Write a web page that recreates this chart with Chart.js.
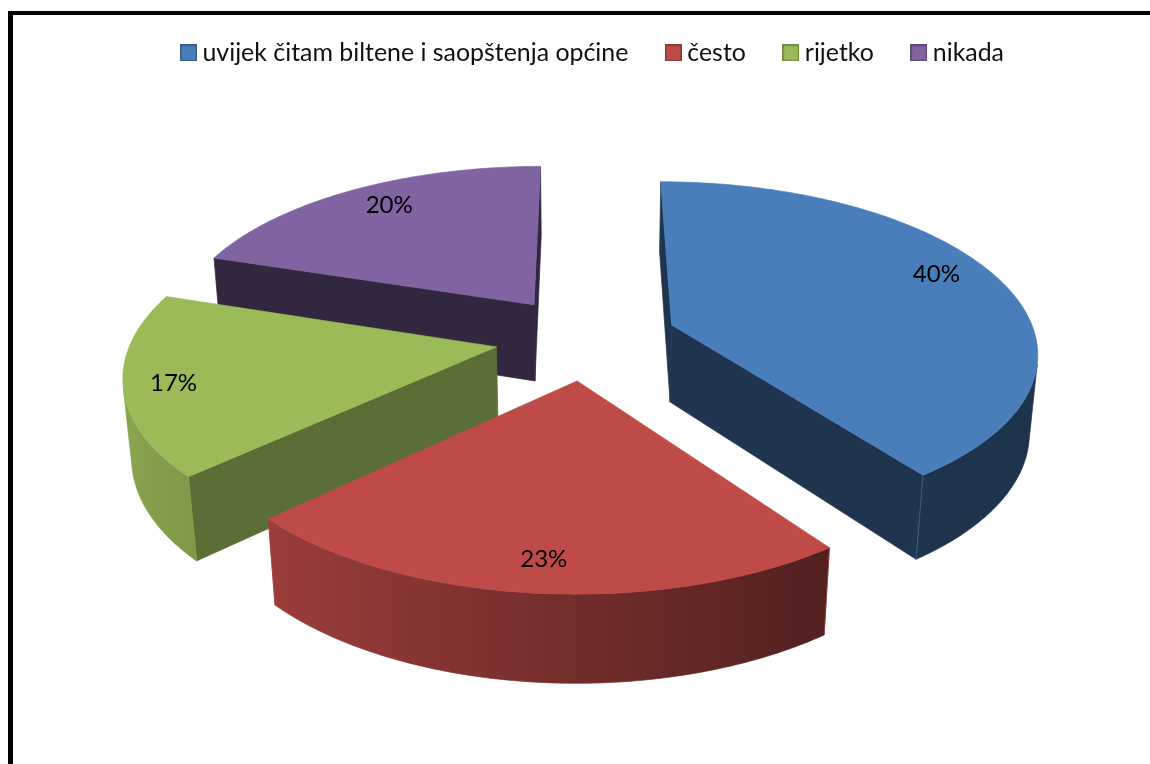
<!DOCTYPE html>
<html>
<head>
<meta charset="utf-8">
<script src="https://cdn.jsdelivr.net/npm/chart.js@4"></script>
<style>
html,body{margin:0;padding:0;background:#fff;width:1150px;height:764px;overflow:hidden}
#frame{position:absolute;left:8px;top:11px;right:0;bottom:0;border-left:5px solid #000;border-top:4px solid #000;pointer-events:none}
#c{position:absolute;left:0;top:-3px}
</style>
</head>
<body>
<canvas id="c" width="1150" height="767"></canvas>
<div id="frame"></div>
<script>
const categories = ['uvijek čitam biltene i saopštenja općine', 'često', 'rijetko', 'nikada'];
const values = [40, 23, 17, 20];
const explode = [0.25, 0.25, 0.25, 0.25];
const topColors = ['#4A7EBB', '#BE4B48', '#9BBB59', '#8064A2'];
const legendBorders = ['#385D8A', '#8C3836', '#71893F', '#5C4776'];
const wallShade = [0.42, 0.42, 0.59, 0.39];
const labelRadius = [0.845, 0.86, 0.87, 0.83];
const labelShiftDeg = [-4.5, -0.5, -1.3, 2];

const view = {panX: -9.5, panY: -82, zoom: 1.058, dist: 6.04, tilt: 27.4 * Math.PI / 180, height: 0.245};
const FONT = 'Lato';

function rgb(hex, k) {
  const n = parseInt(hex.slice(1), 16);
  return 'rgb(' + [(n >> 16) & 255, (n >> 8) & 255, n & 255].map(v => Math.round(v * k)).join(',') + ')';
}
function swatch(i) {
  const c = document.createElement('canvas');
  c.width = 17; c.height = 17;
  const x = c.getContext('2d');
  x.fillStyle = topColors[i]; x.fillRect(0, 0, 17, 17);
  x.strokeStyle = legendBorders[i]; x.lineWidth = 1.5; x.strokeRect(.75, .75, 15.5, 15.5);
  return c;
}

const pie3d = {
  id: 'pie3d',
  beforeDatasetDraw(chart, args) {
    const ctx = chart.ctx, arcs = args.meta.data;
    const st = Math.sin(view.tilt), ct = Math.cos(view.tilt), d = view.dist, h = view.height;
    const el0 = arcs[0];
    const cx = el0.x + view.panX, cy = el0.y + view.panY, F = el0.outerRadius * view.zoom * d;
    const P = (X, Y, Z) => {
      const up = Y * st + Z * ct, dep = d + Y * ct - Z * st;
      return [cx + F * X / dep, cy - F * up / dep];
    };
    const cam = [0, -d * ct, d * st];
    const faces = (n, p) => n[0] * (cam[0] - p[0]) + n[1] * (cam[1] - p[1]) + n[2] * (cam[2] - p[2]) > 0;
    const poly = (pts, fill, edge) => {
      ctx.beginPath();
      pts.forEach((q, i) => i ? ctx.lineTo(q[0], q[1]) : ctx.moveTo(q[0], q[1]));
      ctx.closePath();
      ctx.fillStyle = fill; ctx.strokeStyle = edge || fill; ctx.lineWidth = .7;
      ctx.fill(); ctx.stroke();
    };
    const order = arcs.map((el, i) => ({el, i, mid: (el.startAngle + el.endAngle) / 2}))
      .sort((a, b) => Math.sin(a.mid) - Math.sin(b.mid));

    order.forEach(({el, i, mid}) => {
      const ox = Math.cos(mid) * explode[i], oy = -Math.sin(mid) * explode[i];
      const a0 = el.startAngle, a1 = el.endAngle;
      const rimPt = a => [ox + Math.cos(a), oy - Math.sin(a)];
      const color = topColors[i], wall = rgb(color, wallShade[i]);
      [[a0, a0 - Math.PI / 2], [a1, a1 + Math.PI / 2]].forEach(([a, na]) => {
        const r = rimPt(a), n = [Math.cos(na), -Math.sin(na), 0];
        if (!faces(n, [ox, oy, 0])) return;
        poly([P(ox, oy, 0), P(r[0], r[1], 0), P(r[0], r[1], -h), P(ox, oy, -h)], wall);
      });
      const steps = Math.ceil((a1 - a0) * 90);
      const tops = [], bots = [], shades = [];
      for (let s = 0; s <= steps; s++) {
        const a = a0 + (a1 - a0) * s / steps, n = [Math.cos(a), -Math.sin(a), 0], r = rimPt(a);
        if (!faces(n, [r[0], r[1], 0])) continue;
        tops.push(P(r[0], r[1], 0));
        bots.push(P(r[0], r[1], -h));
        shades.push(Math.max(0.41, Math.min(0.88, 0.6 - 0.3 * n[0])));
      }
      if (tops.length > 1) {
        const xs = tops.map(p => p[0]);
        const xMin = Math.min(...xs), xMax = Math.max(...xs);
        const g = ctx.createLinearGradient(xMin, 0, xMax, 0);
        xs.forEach((x, s) => g.addColorStop((x - xMin) / (xMax - xMin), rgb(color, shades[s])));
        poly(tops.concat(bots.slice().reverse()), g);
      }
      [a0, a1].forEach(a => {
        const r = rimPt(a), n = [Math.cos(a), -Math.sin(a), 0];
        if (!faces(n, [r[0], r[1], 0])) return;
        const t = P(r[0], r[1], 0), b = P(r[0], r[1], -h);
        ctx.beginPath(); ctx.moveTo(t[0], t[1]); ctx.lineTo(b[0], b[1]);
        ctx.strokeStyle = rgb(color, .85); ctx.lineWidth = .7; ctx.stroke();
      });
      const top = [P(ox, oy, 0)];
      for (let s = 0; s <= steps; s++) {
        const r = rimPt(a0 + (a1 - a0) * s / steps);
        top.push(P(r[0], r[1], 0));
      }
      poly(top, color);
    });
    return false;
  },
  afterDatasetsDraw(chart) {
    const ctx = chart.ctx, arcs = chart.getDatasetMeta(0).data;
    const st = Math.sin(view.tilt), ct = Math.cos(view.tilt), d = view.dist;
    const el0 = arcs[0];
    const cx = el0.x + view.panX, cy = el0.y + view.panY, F = el0.outerRadius * view.zoom * d;
    const total = values.reduce((a, b) => a + b, 0);
    ctx.save();
    ctx.fillStyle = '#000'; ctx.textAlign = 'center'; ctx.textBaseline = 'middle';
    ctx.font = '24px ' + FONT;
    arcs.forEach((el, i) => {
      const mid = (el.startAngle + el.endAngle) / 2;
      const ang = mid + labelShiftDeg[i] * Math.PI / 180;
      const X = Math.cos(mid) * explode[i] + Math.cos(ang) * labelRadius[i];
      const Y = -Math.sin(mid) * explode[i] - Math.sin(ang) * labelRadius[i];
      const dep = d + Y * ct;
      ctx.fillText(Math.round(values[i] / total * 100) + '%', cx + F * X / dep, cy - F * Y * st / dep);
    });
    ctx.restore();
  }
};

new Chart(document.getElementById('c'), {
  type: 'pie',
  data: {labels: categories, datasets: [{data: values, backgroundColor: topColors, borderWidth: 0}]},
  plugins: [pie3d],
  options: {
    responsive: false,
    animation: false,
    layout: {padding: {left: 41}},
    plugins: {
      tooltip: {enabled: false},
      legend: {
        position: 'top',
        labels: {
          font: {family: FONT, size: 24.9},
          color: '#111',
          padding: 43.5,
          boxWidth: 3,
          usePointStyle: true,
          generateLabels(chart) {
            return Chart.overrides.pie.plugins.legend.labels.generateLabels(chart).map((it, i) => {
              it.pointStyle = swatch(i);
              return it;
            });
          }
        }
      }
    }
  }
});
</script>
</body>
</html>
